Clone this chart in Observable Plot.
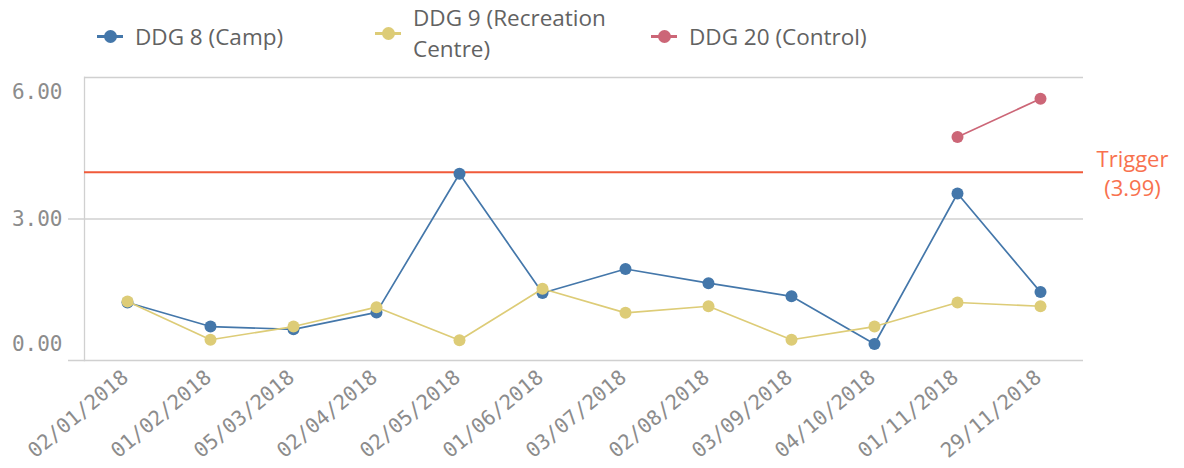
<!DOCTYPE html>
<html>
<head>
<meta charset="utf-8">
<script src="https://cdn.jsdelivr.net/npm/d3@7"></script>
<script src="https://cdn.jsdelivr.net/npm/@observablehq/plot@0.6"></script>
<style>
  html, body { margin: 0; padding: 0; background: #fff; }
  #legend { position: relative; width: 1184px; height: 62px; font-family: "Open Sans", Roboto, sans-serif; font-size: 22.5px; color: #626262; }
  .item { position: absolute; display: flex; align-items: center; }
  .item .txt { line-height: 30.8px; white-space: nowrap; }
  .item .txt span { display: block; }
  .sw { position: relative; width: 26px; height: 13px; margin-right: 12px; flex: none; }
  .sw .ln { position: absolute; left: 0; right: 0; top: 5px; height: 3px; }
  .sw .dt { position: absolute; left: 6.5px; top: 0; width: 13px; height: 13px; border-radius: 50%; }
</style>
</head>
<body>
<div id="legend"></div>
<div id="chart"></div>
<script>
const dates = ["02/01/2018","01/02/2018","05/03/2018","02/04/2018","02/05/2018","01/06/2018","03/07/2018","02/08/2018","03/09/2018","04/10/2018","01/11/2018","29/11/2018"];
const campValues = [1.23,0.72,0.66,1.02,3.96,1.43,1.94,1.64,1.36,0.35,3.54,1.45];
const recreationValues = [1.25,0.44,0.72,1.13,0.43,1.52,1.01,1.15,0.44,0.72,1.23,1.15];
const controlDates = ["01/11/2018","29/11/2018"];
const controlValues = [4.74,5.55];
const seriesNames = ["DDG 8 (Camp)", "DDG 9 (Recreation Centre)", "DDG 20 (Control)"];
const seriesColors = ["#4477aa", "#ddcc77", "#cc6677"];
const triggerValue = 3.99;
const triggerLabel = "Trigger\n(3.99)";
const yTicks = [0, 3, 6];

// legend
const legendItems = [
  {lines: ["DDG 8 (Camp)"], left: 97, top: 21.5},
  {lines: ["DDG 9 (Recreation", "Centre)"], left: 375, top: 3},
  {lines: ["DDG 20 (Control)"], left: 651, top: 21.5}
];
const legend = document.getElementById("legend");
legendItems.forEach((it, i) => {
  const d = document.createElement("div");
  d.className = "item";
  d.style.left = it.left + "px";
  d.style.top = it.top + "px";
  const c = seriesColors[i];
  d.innerHTML = `<div class="sw"><div class="ln" style="background:${c}"></div><div class="dt" style="background:${c}"></div></div><div class="txt">${it.lines.map(l => `<span>${l}</span>`).join("")}</div>`;
  legend.appendChild(d);
});

const camp = dates.map((d, i) => ({date: d, value: campValues[i]}));
const recreation = dates.map((d, i) => ({date: d, value: recreationValues[i]}));
const control = controlDates.map((d, i) => ({date: d, value: controlValues[i]}));

const mono = "'DejaVu Sans Mono', monospace";
const sans = "'Open Sans', Roboto, sans-serif";
const tickColor = "#8c8c8c";

const chart = Plot.plot({
  width: 1184,
  height: 406,
  marginLeft: 84,
  marginRight: 101,
  marginTop: 15,
  marginBottom: 108,
  style: {background: "#fff", overflow: "visible"},
  x: {type: "point", domain: dates, padding: 0.5, axis: null},
  y: {domain: [0, 6], axis: null},
  marks: [
    Plot.ruleY([0, 3], {stroke: "#d0d0d0", strokeWidth: 1.3, insetLeft: -16}),
    Plot.ruleY([6], {stroke: "#d0d0d0", strokeWidth: 1.3}),
    Plot.frame({anchor: "left", stroke: "#d0d0d0", strokeWidth: 1.3}),
    Plot.ruleY([triggerValue], {stroke: "#f05a3a", strokeWidth: 2}),
    Plot.text([triggerLabel], {y: triggerValue, text: d => d, frameAnchor: "right", dx: 49, textAnchor: "middle", lineHeight: 1.32, fill: "#f8714e", fontSize: 22, fontFamily: sans}),
    Plot.text([yTicks[1]], {y: d => d, text: d => d.toFixed(2), frameAnchor: "left", textAnchor: "end", dx: -22, fill: tickColor, fontSize: 21, fontFamily: mono}),
    Plot.text([yTicks[2]], {y: d => d, text: d => d.toFixed(2), frameAnchor: "left", textAnchor: "end", dx: -22, dy: 15, fill: tickColor, fontSize: 21, fontFamily: mono}),
    Plot.text([yTicks[0]], {y: d => d, text: d => d.toFixed(2), frameAnchor: "left", textAnchor: "end", dx: -22, dy: -16, fill: tickColor, fontSize: 21, fontFamily: mono}),
    Plot.axisX({tickSize: 0, tickRotate: -40, tickPadding: 14, dx: -2, fontSize: 20.5, fontFamily: mono, color: tickColor, label: null}),
    Plot.line(camp, {x: "date", y: "value", stroke: seriesColors[0], strokeWidth: 1.7}),
    Plot.dot(camp, {x: "date", y: "value", fill: seriesColors[0], r: 6}),
    Plot.line(recreation, {x: "date", y: "value", stroke: seriesColors[1], strokeWidth: 1.7}),
    Plot.dot(recreation, {x: "date", y: "value", fill: seriesColors[1], r: 6}),
    Plot.line(control, {x: "date", y: "value", stroke: seriesColors[2], strokeWidth: 1.7}),
    Plot.dot(control, {x: "date", y: "value", fill: seriesColors[2], r: 6})
  ]
});
document.getElementById("chart").appendChild(chart);
</script>
</body>
</html>
